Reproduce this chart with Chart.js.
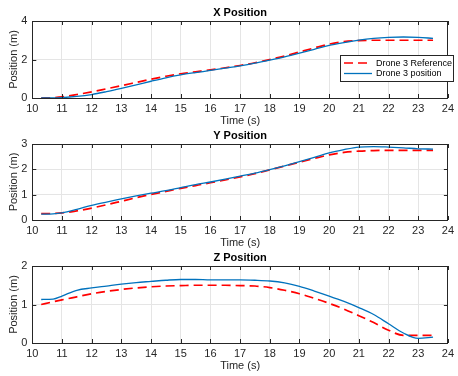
<!DOCTYPE html>
<html>
<head>
<meta charset="utf-8">
<script src="https://cdn.jsdelivr.net/npm/chart.js@4.4.1/dist/chart.umd.min.js"></script>
<style>
  html, body { margin: 0; padding: 0; background: #fff; }
  #wrap { position: relative; width: 458px; height: 376px; overflow: hidden; }
  canvas { position: absolute; left: 0; }
</style>
</head>
<body>
<div id="wrap">
  <canvas id="cx" width="458" height="130" style="top:0px"></canvas>
  <canvas id="cy" width="458" height="130" style="top:122px"></canvas>
  <canvas id="cz" width="458" height="130" style="top:245px"></canvas>
</div>
<script>
// Time samples (s)
const times = [10.3, 10.7, 11, 11.5, 12, 12.5, 13, 13.5, 14, 14.5, 15, 15.5, 16, 16.5, 17, 17.5, 18, 18.5, 19, 19.5, 20, 20.5, 21, 21.5, 22, 22.5, 23, 23.5];

// X position (m)
const xRef = [0, 0.02, 0.06, 0.18, 0.32, 0.48, 0.64, 0.81, 0.98, 1.13, 1.26, 1.36, 1.46, 1.57, 1.69, 1.83, 2.0, 2.18, 2.39, 2.6, 2.8, 2.93, 2.98, 3.0, 3.0, 3.0, 3.0, 3.0];
const xPos = [0, 0, 0.02, 0.08, 0.18, 0.33, 0.5, 0.68, 0.87, 1.05, 1.2, 1.32, 1.43, 1.55, 1.67, 1.81, 1.97, 2.14, 2.33, 2.53, 2.73, 2.88, 3.01, 3.1, 3.15, 3.17, 3.15, 3.1];

// Y position (m)
const yRef = [0.25, 0.26, 0.28, 0.36, 0.47, 0.6, 0.74, 0.88, 1.01, 1.13, 1.25, 1.36, 1.47, 1.58, 1.7, 1.83, 1.98, 2.13, 2.28, 2.43, 2.57, 2.67, 2.72, 2.74, 2.75, 2.75, 2.75, 2.75];
const yPos = [0.23, 0.24, 0.28, 0.42, 0.58, 0.71, 0.83, 0.95, 1.06, 1.16, 1.28, 1.4, 1.5, 1.61, 1.73, 1.85, 1.99, 2.14, 2.3, 2.47, 2.65, 2.78, 2.88, 2.9, 2.88, 2.85, 2.81, 2.8];

// Z position (m)
const zRef = [1.0, 1.07, 1.12, 1.2, 1.28, 1.34, 1.39, 1.43, 1.46, 1.48, 1.49, 1.5, 1.5, 1.5, 1.49, 1.48, 1.44, 1.37, 1.28, 1.16, 1.03, 0.88, 0.71, 0.53, 0.33, 0.2, 0.2, 0.2];
const zPos = [1.13, 1.14, 1.22, 1.37, 1.43, 1.48, 1.53, 1.57, 1.6, 1.63, 1.65, 1.65, 1.64, 1.64, 1.64, 1.63, 1.61, 1.56, 1.47, 1.35, 1.22, 1.08, 0.92, 0.74, 0.5, 0.26, 0.12, 0.15];

const seriesNames = ['Drone 3 Reference', 'Drone 3 position'];

const FONT = 'Liberation Sans, Arial, Helvetica, sans-serif';
const AXIS = '#262626';
const RED = '#ff0000';
const BLUE = '#0072bd';

// title, box with inward ticks, optional legend
const matlabAxes = {
  id: 'matlabAxes',
  afterDraw(chart, args, opts) {
    const ctx = chart.ctx;
    const a = chart.chartArea;
    ctx.save();
    // title
    ctx.fillStyle = '#000';
    ctx.font = 'bold 11px ' + FONT;
    ctx.textAlign = 'center';
    ctx.textBaseline = 'middle';
    ctx.fillText(opts.title, (a.left + a.right) / 2, a.top - 8);

    // box
    ctx.strokeStyle = AXIS;
    ctx.lineWidth = 1;
    ctx.strokeRect(Math.round(a.left) + 0.5, Math.round(a.top) + 0.5,
      Math.round(a.right) - Math.round(a.left) - 1, Math.round(a.bottom) - Math.round(a.top));

    // inward tick marks
    const tl = 4;
    ctx.beginPath();
    chart.scales.x.ticks.forEach(t => {
      const px = Math.round(chart.scales.x.getPixelForValue(t.value)) + 0.5;
      ctx.moveTo(px, a.bottom); ctx.lineTo(px, a.bottom - tl);
      ctx.moveTo(px, a.top); ctx.lineTo(px, a.top + tl);
    });
    chart.scales.y.ticks.forEach(t => {
      const py = Math.round(chart.scales.y.getPixelForValue(t.value)) + 0.5;
      ctx.moveTo(a.left, py); ctx.lineTo(a.left + tl, py);
      ctx.moveTo(a.right, py); ctx.lineTo(a.right - tl, py);
    });
    ctx.stroke();

    // legend
    if (opts.legend) {
      const lx = 340, ly = 55, lw = 113, lh = 26;
      ctx.fillStyle = '#fff';
      ctx.fillRect(lx, ly, lw, lh);
      ctx.strokeStyle = AXIS;
      ctx.strokeRect(lx + 0.5, ly + 0.5, lw, lh);
      chart.data.datasets.slice().sort((p, q) => p.legendIndex - q.legendIndex).forEach((ds, i) => {
        const yy = ly + 8 + i * 10.5;
        ctx.strokeStyle = ds.borderColor;
        ctx.lineWidth = ds.borderWidth;
        ctx.setLineDash(ds.borderDash || []);
        ctx.beginPath();
        ctx.moveTo(lx + 4, yy); ctx.lineTo(lx + 32, yy);
        ctx.stroke();
        ctx.setLineDash([]);
        ctx.fillStyle = '#000';
        ctx.font = '9px ' + FONT;
        ctx.textAlign = 'left';
        ctx.fillText(ds.label, lx + 36, yy + 0.5);
      });
    }
    ctx.restore();
  }
};

function makeChart(id, title, refVals, posVals, yMax, padTop, legend) {
  const ctx = document.getElementById(id).getContext('2d');
  return new Chart(ctx, {
    type: 'line',
    data: {
      datasets: [
        {
          label: seriesNames[0],
          legendIndex: 0,
          data: times.map((t, i) => ({ x: t, y: refVals[i] })),
          borderColor: RED,
          borderWidth: 1.7,
          borderDash: [9, 5],
          pointRadius: 0,
          cubicInterpolationMode: 'monotone',
          order: 2
        },
        {
          label: seriesNames[1],
          legendIndex: 1,
          data: times.map((t, i) => ({ x: t, y: posVals[i] })),
          borderColor: BLUE,
          borderWidth: 1.3,
          pointRadius: 0,
          cubicInterpolationMode: 'monotone',
          order: 1
        }
      ]
    },
    options: {
      responsive: false,
      animation: false,
      devicePixelRatio: 1,
      layout: { autoPadding: false, padding: { top: padTop, right: 4, bottom: 0, left: 0 } },
      plugins: {
        legend: { display: false },
        tooltip: { enabled: false },
        matlabAxes: { title: title, legend: legend }
      },
      scales: {
        x: {
          type: 'linear', min: 10, max: 24,
          ticks: { stepSize: 1, padding: 4, color: AXIS, font: { family: FONT, size: 11 }, maxRotation: 0 },
          grid: { color: '#e5e5e5', drawTicks: false },
          border: { display: false },
          title: { display: true, text: 'Time (s)', color: AXIS, font: { family: FONT, size: 11 }, padding: { top: 0, bottom: 2 } },
          afterFit: s => { s.height = 32; }
        },
        y: {
          type: 'linear', min: 0, max: yMax,
          ticks: { stepSize: yMax === 4 ? 2 : 1, padding: 5, color: AXIS, font: { family: FONT, size: 11 } },
          grid: { color: '#e5e5e5', drawTicks: false },
          border: { display: false },
          title: { display: true, text: 'Position (m)', color: AXIS, font: { family: FONT, size: 11 }, padding: { top: 7, bottom: 0 } },
          afterFit: s => { s.width = 32.3; }
        }
      }
    },
    plugins: [matlabAxes]
  });
}

makeChart('cx', 'X Position', xRef, xPos, 4, 21, true);
makeChart('cy', 'Y Position', yRef, yPos, 3, 22, false);
makeChart('cz', 'Z Position', zRef, zPos, 2, 21, false);
</script>
</body>
</html>
